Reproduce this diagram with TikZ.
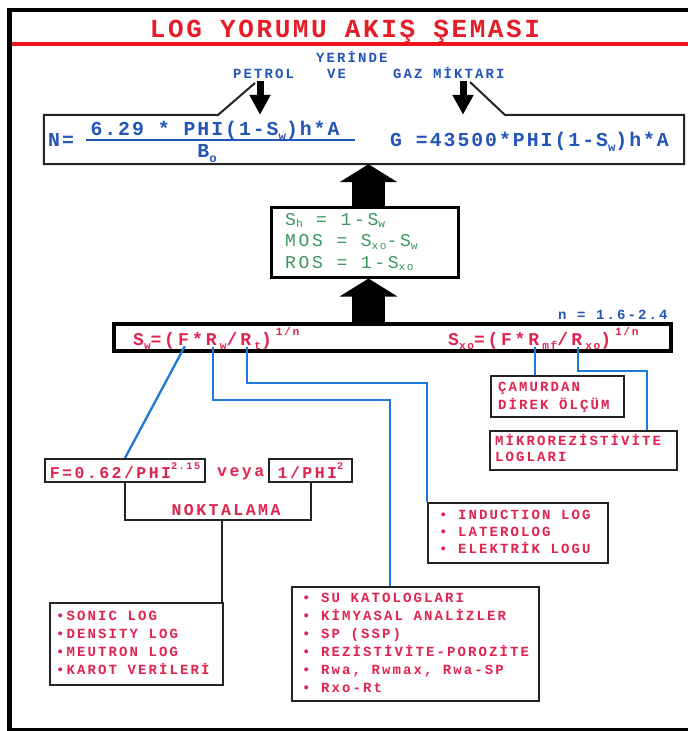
\documentclass[tikz,border=0pt]{standalone}
\usepackage{fontspec}
\usepackage{graphicx}
\setmonofont{Liberation Mono}
\newfontfamily\fA{Liberation Mono}[LetterSpace=10]
\newfontfamily\fB{Liberation Mono}[LetterSpace=15]
\usetikzlibrary{arrows.meta}
\definecolor{tred}{RGB}{230,28,40}
\definecolor{rline}{RGB}{238,18,28}
\definecolor{pred}{RGB}{225,35,80}
\definecolor{tblue}{RGB}{35,85,185}
\definecolor{lblue}{RGB}{30,120,215}
\definecolor{tgreen}{RGB}{60,150,95}
\definecolor{bx}{RGB}{35,35,35}
\newcommand\lo[1]{\raisebox{-0.5ex}{\scalebox{0.62}{#1}}}
\newcommand\glo[1]{\raisebox{-0.3ex}{\scalebox{0.62}{#1}}}
\newcommand\hi[1]{\raisebox{1.0ex}{\scalebox{0.62}{#1}}}
\newcommand\lsk{\kern0.15em}
\begin{document}
\begin{tikzpicture}[x=1pt,y=-1pt,
  ttl/.style={font=\fA\bfseries\fontsize{26}{28}\selectfont, text=tred, inner sep=0pt},
  lbl/.style={font=\fB\bfseries\fontsize{14}{16}\selectfont, text=tblue, inner sep=0pt, anchor=base west},
  frm/.style={font=\fA\bfseries\fontsize{19.8}{22}\selectfont, text=tblue, inner sep=0pt},
  grn/.style={font=\fB\fontsize{18}{21.5}\selectfont, text=tgreen, inner sep=0pt, anchor=base west},
  swf/.style={font=\fB\bfseries\fontsize{18}{20}\selectfont, text=pred, inner sep=0pt, anchor=base west},
  rmid/.style={font=\fB\bfseries\fontsize{16.5}{18}\selectfont, text=pred},
  rsm/.style={font=\fB\bfseries\fontsize{14}{18}\selectfont, text=pred},
  box/.style={draw=bx, line width=2pt},
  lbox/.style={box, anchor=north west, inner sep=0pt},
  conn/.style={draw=lblue, line width=2.3pt},
  brk/.style={draw=bx, line width=2pt},
  darr/.style={line width=7pt, -{Triangle[length=20pt,width=20pt]}},
  barr/.style={line width=33pt, -{Triangle[length=18pt,width=57pt]}}]
\useasboundingbox (0,0) rectangle (688,731);
\fill[white] (0,0) rectangle (688,731);
% frame
\draw[line width=5pt] (9.5,8) -- (9.5,731);
\draw[line width=4pt] (7.5,10) -- (688,10);
\draw[line width=4pt] (7.5,729.5) -- (688,729.5);
\draw[rline, line width=4pt] (12,44) -- (688,44);
% title and labels
\node[ttl, anchor=base] (title) at (345,37) {LOG YORUMU AKIŞ ŞEMASI};
\node[lbl] (yer) at (316,62) {YERİNDE};
\node[lbl] (pet) at (233,78) {PETROL};
\node[lbl] (ve) at (327,78) {VE};
\node[lbl] (gaz) at (393,78) {GAZ MİKTARI};
% formula box
\node[minimum width=640pt, minimum height=49pt, inner sep=0pt] (fbox) at (364,139.5) {};
\coordinate (tL) at (255,83);
\coordinate (jL) at (218,115);
\coordinate (jR) at (505,115);
\coordinate (tR) at (470,82);
\draw[box] (tL) -- (jL) -- (fbox.north west) -- (fbox.south west) -- (fbox.south east) -- (fbox.north east) -- (jR) -- (tR);
\coordinate (dA) at (260,81);
\coordinate (dB) at (463,81);
\draw[darr] (dA) -- (dA |- fbox.north);
\draw[darr] (dB) -- (dB |- fbox.north);
\node[frm, anchor=base west] (N) at (48,146) {N=};
\node[frm, anchor=base] (num) at (215,135) {6.29 * PHI(1-S\lo{w})h*A};
\draw[tblue, line width=2pt] (86,139.5) -- (355,139.5);
\node[frm, anchor=base] (den) at (207,157) {B\lo{o}};
\node[frm, anchor=base west] (G) at (390,146) {G =43500*PHI(1-S\lo{w})h*A};
% saturation box
\node[draw=black, line width=3pt, minimum width=187pt, minimum height=70pt, inner sep=0pt] (b2) at (364.5,242) {};
\node[grn] (sat) at (285,225) {\begin{tabular}[t]{@{}l@{}}S\glo{h} = 1-S\glo{w}\\MOS = S\glo{xo}-S\glo{w}\\ROS = 1-S\glo{xo}\end{tabular}};
\coordinate (u1) at (368.5,207);
\draw[barr] (u1) -- (u1 |- fbox.south);
% Sw box
\node[draw=black, line width=4pt, minimum width=557pt, minimum height=27pt, inner sep=0pt] (swb) at (392.5,337.5) {};
\coordinate (u2) at (368.5,322);
\draw[barr] (u2) -- (u2 |- b2.south);
\node[lbl] (nlab) at (558,319.5) {n = 1.6-2.4};
\node[swf] (sw1) at (133,345) {S\lo{w}=(\lsk};
\node[swf] (swF) at (sw1.base east) {F\lsk};
\node[swf] (sw2) at (swF.base east) {*\lsk};
\node[swf] (swR1) at (sw2.base east) {R\lsk};
\node[swf] (sw3) at (swR1.base east) {\lo{w}/\lsk};
\node[swf] (swR2) at (sw3.base east) {R\lsk};
\node[swf] (sw4) at (swR2.base east) {\lo{t})\hspace{4pt}\hi{1/n}};
\node[swf] (sx1) at (448,345) {S\lo{xo}=(F*\lsk};
\node[swf] (sxR1) at (sx1.base east) {R\lsk};
\node[swf] (sx2) at (sxR1.base east) {\lo{mf}/\lsk};
\node[swf] (sxR2) at (sx2.base east) {R\lsk};
\node[swf] (sx3) at (sxR2.base east) {\lo{xo})\hspace{4pt}\hi{1/n}};
% F boxes
\node[box, rmid, minimum width=160pt, minimum height=23pt, inner sep=0pt] (fb) at (125,470.5) {F=0.62/PHI\hi{2.15}};
\node[rmid, anchor=base west, inner sep=0pt] (veya) at (217,476) {veya};
\node[box, rmid, minimum width=83pt, minimum height=23pt, inner sep=0pt] (ph) at (310.5,470.5) {1/PHI\hi{2}};
\coordinate (bk) at (222,520);
\draw[brk] (fb.south) |- (bk) -| (ph.south);
\node[rmid, anchor=base, inner sep=0pt] (nok) at (226,515) {NOKTALAMA};
% lists
\node[lbox, minimum width=173pt, minimum height=82pt] (son) at (49,602) {};
\node[rsm, anchor=west, inner sep=0pt] (sonT) at ([xshift=7pt]son.west) {\begin{tabular}{@{}l@{}}•SONIC LOG\\•DENSITY LOG\\•MEUTRON LOG\\•KAROT VERİLERİ\end{tabular}};
\draw[brk] (bk) -- (bk |- son.north);
\node[lbox, minimum width=247pt, minimum height=114pt] (su) at (291,586) {};
\node[rsm, anchor=west, inner sep=0pt] (suT) at ([xshift=11pt]su.west) {\begin{tabular}{@{}l@{}}• SU KATOLOGLARI\\• KİMYASAL ANALİZLER\\• SP (SSP)\\• REZİSTİVİTE-POROZİTE\\• Rwa, Rwmax, Rwa-SP\\• Rxo-Rt\end{tabular}};
\node[lbox, minimum width=180pt, minimum height=60pt] (ind) at (427,502) {};
\node[rsm, font=\fB\bfseries\fontsize{14}{17}\selectfont, anchor=west, inner sep=0pt] (indT) at ([xshift=12pt]ind.west) {\begin{tabular}{@{}l@{}}• INDUCTION LOG\\• LATEROLOG\\• ELEKTRİK LOGU\end{tabular}};
\node[lbox, minimum width=133pt, minimum height=41pt] (cam) at (490,375) {};
\node[rsm, anchor=west, inner sep=0pt] (camT) at ([xshift=8pt]cam.west) {\begin{tabular}{@{}l@{}}ÇAMURDAN\\DİREK ÖLÇÜM\end{tabular}};
\node[lbox, minimum width=187pt, minimum height=39pt] (mik) at (489,430) {};
\node[rsm, font=\fB\bfseries\fontsize{14}{16}\selectfont, anchor=west, inner sep=0pt] (mikT) at ([xshift=6pt]mik.west) {\begin{tabular}{@{}l@{}}MİKROREZİSTİVİTE\\LOGLARI\end{tabular}};
% connectors
\draw[conn] ([yshift=-1pt]swF.south) -- (fb.north);
\coordinate (kRw) at (390,400);
\draw[conn] ([yshift=-2pt]swR1.south) |- (kRw) -- (kRw |- su.north);
\coordinate (kRt) at (427,383);
\draw[conn] ([yshift=-2pt]swR2.south) |- (kRt) -- (ind.north west);
\draw[conn] ([yshift=-2pt]sxR1.south) -- (sxR1.south |- cam.north);
\coordinate (kRx) at (647,371);
\draw[conn] ([yshift=-2pt]sxR2.south) |- (kRx) -- (kRx |- mik.north);
\end{tikzpicture}
\end{document}
